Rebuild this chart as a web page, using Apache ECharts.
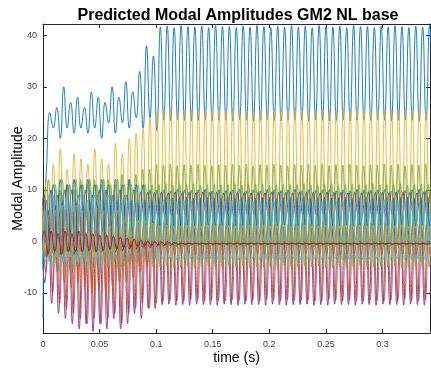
<!DOCTYPE html>
<html><head><meta charset="utf-8">
<script src="https://cdn.jsdelivr.net/npm/echarts@6/dist/echarts.min.js"></script>
<style>html,body{margin:0;padding:0;background:#fff}#c{width:431px;height:369px}</style>
</head><body><div id="c"></div>
<script>
// ---- data ----
// time between successive extremes (half of the oscillation period), s
const HALF_PERIOD = 0.00305;
const xTickValues = [0, 0.05, 0.1, 0.15, 0.2, 0.25, 0.3];
const yTickValues = [-10, 0, 10, 20, 30, 40];
const seriesNames = ['Mode 1','Mode 2','Mode 3','Mode 4','Mode 5','Mode 6','Mode 7','Mode 8','Mode 9','Mode 10','Mode 11','Mode 12','Mode 13','Mode 14'];
// phase offset of each series, in half periods
const phaseShift = [0, 0.2, 0, 0.5, 0.1, 0.3, 0, 0, 0.8, 0.25, 0.7, 0.4, 0.15, 0.6];

// successive extremes (peak / trough values) of each modal amplitude
const mode1 = [1,14,25,22,26,20,30,22,27,21,28,22,26,21,29,22,28,20,27,23,30,21,28,23,31,22,29,24,33,22,38,24,36,21.5,
 41.6,23.5,41.8,23.4,41.5,23.6,41.9,23.5,41.7,23.4,41.6,23.5,41.8,23.6,41.5,23.4,41.9,23.5,41.7,23.5,
 41.7,23.4,41.5,23.6,41.8,23.5,41.6,23.4,41.9,23.5,41.7,23.6,41.5,23.5,41.8,23.4,41.6,23.5,41.9,23.6,
 41.6,23.5,41.8,23.4,41.5,23.6,41.9,23.5,41.7,23.4,41.6,23.5,41.8,23.6,41.5,23.4,41.9,23.5,41.7,23.5,
 41.7,23.4,41.5,23.6,41.8,23.5,41.6,23.4,41.9,23.5,41.7,23.6,41.5,23.5,41.8,23.4,41.6,23.5,41.9,23.6];
const mode2 = [4,-6,5,-10,4,-12,5,-13,4,-14,5,-15,4,-16,3,-15,4,-16,3,-15,4,-14,3,-16,4,-14,3,-13,4,-12,3,-13,4,-12,
 3,-11.5,3.2,-11.4,2.9,-11.6,3.1,-11.5,3,-11.3,3.2,-11.5,2.9,-11.6,3.1,-11.4,3,-11.5,3.2,-11.6,
 2.9,-11.4,3.1,-11.5,3,-11.6,3.2,-11.4,2.9,-11.5,3.1,-11.3,3,-11.5,3.2,-11.6,2.9,-11.4,3.1,-11.5,
 3,-11.5,3.2,-11.4,2.9,-11.6,3.1,-11.5,3,-11.3,3.2,-11.5,2.9,-11.6,3.1,-11.4,3,-11.5,3.2,-11.6,
 2.9,-11.4,3.1,-11.5,3,-11.6,3.2,-11.4,2.9,-11.5,3.1,-11.3,3,-11.5,3.2,-11.6,2.9,-11.4,3.1,-11.5];
const mode3 = [2,12,-2,15,-1,18,0,14,-2,17,0,16,-1,15,1,18,-1,16,0,15,1,19,0,17,1,20,0,21,1,22,0,24,1,25,
 1,25.5,0.8,25.6,1.2,25.4,1,25.5,0.9,25.6,1.1,25.5,1,25.4,0.8,25.6,1.2,25.5,1,25.5,0.9,25.6,
 1.1,25.4,1,25.5,0.8,25.6,1.2,25.5,1,25.4,0.9,25.6,1.1,25.5,1,25.5,0.8,25.4,1.2,25.6,1,25.5,
 1,25.5,0.8,25.6,1.2,25.4,1,25.5,0.9,25.6,1.1,25.5,1,25.4,0.8,25.6,1.2,25.5,1,25.5,0.9,25.6,
 1.1,25.4,1,25.5,0.8,25.6,1.2,25.5,1,25.4,0.9,25.6,1.1,25.5,1,25.5,0.8,25.4,1.2,25.6,1,25.5];
const mode4 = [0,-8,6,-12,7,-14,8,-15,6,-16,8,-17,7,-16,8,-17.5,7,-16,8,-17,7,-15,8,-17,7,-16,8,-14,7,-15,8,-13,8,-13,
 8.5,-12.3,8.6,-12.2,8.4,-12.4,8.5,-12.3,8.6,-12.4,8.4,-12.2,8.5,-12.3,8.6,-12.3,8.4,-12.4,8.5,-12.2,
 8.6,-12.3,8.4,-12.4,8.5,-12.2,8.6,-12.3,8.4,-12.3,8.5,-12.4,8.6,-12.2,8.4,-12.3,8.5,-12.4,8.6,-12.3,
 8.5,-12.3,8.6,-12.2,8.4,-12.4,8.5,-12.3,8.6,-12.4,8.4,-12.2,8.5,-12.3,8.6,-12.3,8.4,-12.4,8.5,-12.2,
 8.6,-12.3,8.4,-12.4,8.5,-12.2,8.6,-12.3,8.4,-12.3,8.5,-12.4,8.6,-12.2,8.4,-12.3,8.5,-12.4,8.6,-12.3];
const mode5 = [-3,6,-4,9,-5,10,-4,11,-6,10,-5,12,-4,11,-6,12,-5,11,-4,12,-5,11,-6,13,-5,12,-4,13,-5,14,-4,14,-5,15,
 -5,14.8,-4.8,15,-5.1,14.7,-5,14.9,-4.9,14.8,-5.1,15,-5,14.8,-4.8,14.7,-5,14.9,-5.1,14.8,-4.9,15,
 -5,14.8,-4.8,15,-5.1,14.7,-5,14.9,-4.9,14.8,-5.1,15,-5,14.8,-4.8,14.7,-5,14.9,-5.1,14.8,-4.9,15,
 -5,14.8,-4.8,15,-5.1,14.7,-5,14.9,-4.9,14.8,-5.1,15,-5,14.8,-4.8,14.7,-5,14.9,-5.1,14.8,-4.9,15,
 -5,14.8,-4.8,15,-5.1,14.7,-5,14.9,-4.9,14.8,-5.1,15,-5,14.8,-4.8,14.7,-5,14.9,-5.1,14.8,-4.9,15];
const mode6 = [5,-4,9,-5,10,-6,9,-5,11,-6,10,-5,9,-6,10,-5,9,-6,10,-5,9,-4,8,-5,9,-4,8,-4,7,-3,7,-4,6,-3.5,
 6,-3.5,6.2,-3.4,5.9,-3.6,6.1,-3.5,6,-3.4,6.2,-3.6,5.9,-3.5,6.1,-3.4,6,-3.6,6.2,-3.5,5.9,-3.4,6.1,-3.6,
 6,-3.5,6.2,-3.4,5.9,-3.6,6.1,-3.5,6,-3.4,6.2,-3.6,5.9,-3.5,6.1,-3.4,6,-3.6,6.2,-3.5,5.9,-3.4,6.1,-3.6,
 6,-3.5,6.2,-3.4,5.9,-3.6,6.1,-3.5,6,-3.4,6.2,-3.6,5.9,-3.5,6.1,-3.4,6,-3.6,6.2,-3.5,5.9,-3.4,6.1,-3.6,
 6,-3.5,6.2,-3.4,5.9,-3.6,6.1,-3.5,6,-3.4,6.2,-3.6,5.9,-3.5,6.1,-3.4,6,-3.6,6.2,-3.5,5.9,-3.4,6.1,-3.6];
const mode7 = [3,-3,2.5,-2.5,2,-2.5,2.5,-2,2,-2.5,2,-2,2.5,-2,2,-2,1.5,-2,1.8,-1.8,1.5,-2,1.5,-1.8,1.2,-1.5,1,-1.5,0.8,-1.2,0.5,-1.2,0.3,-1,
 0.1,-0.9,0,-0.8,-0.2,-0.7,-0.3,-0.65,-0.35,-0.6,-0.4,-0.55,-0.4,-0.55,-0.4,-0.55,-0.4,-0.55,-0.4,-0.55,
 -0.4,-0.55,-0.4,-0.55,-0.4,-0.55,-0.4,-0.55,-0.4,-0.55,-0.4,-0.55,-0.4,-0.55,-0.4,-0.55,-0.4,-0.55,-0.4,-0.55,
 -0.4,-0.55,-0.4,-0.55,-0.4,-0.55,-0.4,-0.55,-0.4,-0.55,-0.4,-0.55,-0.4,-0.55,-0.4,-0.55,-0.4,-0.55,-0.4,-0.55,
 -0.4,-0.55,-0.4,-0.55,-0.4,-0.55,-0.4,-0.55,-0.4,-0.55,-0.4,-0.55,-0.4,-0.55,-0.4,-0.55,-0.4,-0.55,-0.4,-0.55];
const mode8 = [-15,8,2,11,1,12,3,11,2,12,1,11,3,12,2,11,3,12,2,11,3,12,2,11,3,12,2,11,3,11,3,10,3,10,
 3,10,3.2,9.8,2.9,10.1,3,10,3.1,9.9,3.2,10,2.9,10.1,3,9.8,3.1,10,3.2,9.9,2.9,10,3,10.1,3.1,9.8,
 3,10,3.2,9.8,2.9,10.1,3,10,3.1,9.9,3.2,10,2.9,10.1,3,9.8,3.1,10,3.2,9.9,2.9,10,3,10.1,3.1,9.8,
 3,10,3.2,9.8,2.9,10.1,3,10,3.1,9.9,3.2,10,2.9,10.1,3,9.8,3.1,10,3.2,9.9,2.9,10,3,10.1,3.1,9.8,
 3,10,3.2,9.8,2.9,10.1,3,10,3.1,9.9,3.2,10,2.9,10.1,3,9.8,3.1,10,3.2,9.9,2.9,10,3,10.1,3.1,9.8];
const mode9 = [8,-2,6,-4,5,-6,6,-8,5,-9,6,-8,5,-9,4,-10,5,-9,4,-10,5,-9,4,-8,4,-8,3,-7,3,-6,3,-5,3,-4,
 3.5,-2.5,3.6,-2.4,3.4,-2.6,3.5,-2.5,3.6,-2.4,3.4,-2.5,3.5,-2.6,3.6,-2.5,3.4,-2.4,3.5,-2.5,
 3.5,-2.5,3.6,-2.4,3.4,-2.6,3.5,-2.5,3.6,-2.4,3.4,-2.5,3.5,-2.6,3.6,-2.5,3.4,-2.4,3.5,-2.5,
 3.5,-2.5,3.6,-2.4,3.4,-2.6,3.5,-2.5,3.6,-2.4,3.4,-2.5,3.5,-2.6,3.6,-2.5,3.4,-2.4,3.5,-2.5,
 3.5,-2.5,3.6,-2.4,3.4,-2.6,3.5,-2.5,3.6,-2.4,3.4,-2.5,3.5,-2.6,3.6,-2.5,3.4,-2.4,3.5,-2.5,
 3.5,-2.5,3.6,-2.4,3.4,-2.6,3.5,-2.5,3.6,-2.4,3.4,-2.5,3.5,-2.6,3.6,-2.5,3.4,-2.4,3.5,-2.5];
const mode10 = [6,-2,5,-3,6,-2,7,-3,6,-2,7,-3,6,-2,6,-3,7,-2,6,-2,5,-2,6,-1,5,-1,5,-1,4,0,4,0,3.5,0,
 3,0,3.1,0.1,2.9,0,3,-0.1,3.1,0,2.9,0.1,3,0,3.1,-0.1,2.9,0,3,0.1,3.1,0,2.9,-0.1,3,0,3.1,0.1,
 3,0,3.1,0.1,2.9,0,3,-0.1,3.1,0,2.9,0.1,3,0,3.1,-0.1,2.9,0,3,0.1,3.1,0,2.9,-0.1,3,0,3.1,0.1,
 3,0,3.1,0.1,2.9,0,3,-0.1,3.1,0,2.9,0.1,3,0,3.1,-0.1,2.9,0,3,0.1,3.1,0,2.9,-0.1,3,0,3.1,0.1,
 3,0,3.1,0.1,2.9,0,3,-0.1,3.1,0,2.9,0.1,3,0,3.1,-0.1,2.9,0,3,0.1,3.1,0,2.9,-0.1,3,0,3.1,0.1];
const mode11 = [2,9,0,10,1,9,0,10,1,10,0,9,1,10,2,9,1,10,2,10,3,9,3,10,4,9,4,10,4,9.5,5,9.5,5,9.5,
 5,9.5,5.1,9.4,4.9,9.6,5,9.5,5.1,9.5,4.9,9.4,5,9.6,5.1,9.5,4.9,9.5,5,9.4,5.1,9.6,4.9,9.5,5,9.5,5.1,9.4,
 5,9.5,5.1,9.4,4.9,9.6,5,9.5,5.1,9.5,4.9,9.4,5,9.6,5.1,9.5,4.9,9.5,5,9.4,5.1,9.6,4.9,9.5,5,9.5,5.1,9.4,
 5,9.5,5.1,9.4,4.9,9.6,5,9.5,5.1,9.5,4.9,9.4,5,9.6,5.1,9.5,4.9,9.5,5,9.4,5.1,9.6,4.9,9.5,5,9.5,5.1,9.4,
 5,9.5,5.1,9.4,4.9,9.6,5,9.5,5.1,9.5,4.9,9.4,5,9.6,5.1,9.5,4.9,9.5,5,9.4,5.1,9.6,4.9,9.5,5,9.5,5.1,9.4];
const mode12 = [10,-3,12,-2,11,-3,12,-2,11,-3,12,-2,11,-3,12,-2,11,-2,12,-3,11,-2,12,-2,11,-1,11,-2,11,-1,11,-1,11,-1,
 11,-1,11.2,-0.9,10.9,-1.1,11,-1,11.1,-0.9,11.2,-1,10.9,-1.1,11,-1,11.1,-0.9,11,-1,
 11,-1,11.2,-0.9,10.9,-1.1,11,-1,11.1,-0.9,11.2,-1,10.9,-1.1,11,-1,11.1,-0.9,11,-1,
 11,-1,11.2,-0.9,10.9,-1.1,11,-1,11.1,-0.9,11.2,-1,10.9,-1.1,11,-1,11.1,-0.9,11,-1,
 11,-1,11.2,-0.9,10.9,-1.1,11,-1,11.1,-0.9,11.2,-1,10.9,-1.1,11,-1,11.1,-0.9,11,-1];
const mode13 = [-5,6,-4,9,-3,8,-4,9,-3,8,-4,9,-3,8,-2,9,-3,8,-2,9,-2,8,-1,8,-1,8,0,8,0,8,0,8,0,8,
 0,8,0.1,8.1,-0.1,7.9,0,8,0.1,8.1,0,7.9,-0.1,8,0,8.1,0.1,8,0,7.9,-0.1,8,0.1,8.1,0,8,0,7.9,
 0,8,0.1,8.1,-0.1,7.9,0,8,0.1,8.1,0,7.9,-0.1,8,0,8.1,0.1,8,0,7.9,-0.1,8,0.1,8.1,0,8,0,7.9,
 0,8,0.1,8.1,-0.1,7.9,0,8,0.1,8.1,0,7.9,-0.1,8,0,8.1,0.1,8,0,7.9,-0.1,8,0.1,8.1,0,8,0,7.9,
 0,8,0.1,8.1,-0.1,7.9,0,8,0.1,8.1,0,7.9,-0.1,8,0,8.1,0.1,8,0,7.9,-0.1,8,0.1,8.1,0,8,0,7.9];
const mode14 = [-2,2,-2.5,2,-2,1.5,-2.5,2,-2,1.5,-2,2,-2,1.5,-1.8,1.5,-2,1.2,-1.8,1.2,-1.5,1,-1.5,0.8,-1.2,0.6,-1.2,0.4,-1,0.2,-0.9,0,-0.8,-0.1,
 -0.7,-0.2,-0.65,-0.3,-0.6,-0.35,-0.55,-0.4,-0.5,-0.4,-0.5,-0.4,-0.5,-0.4,-0.5,-0.4,-0.5,-0.4,-0.5,-0.4,
 -0.5,-0.4,-0.5,-0.4,-0.5,-0.4,-0.5,-0.4,-0.5,-0.4,-0.5,-0.4,-0.5,-0.4,-0.5,-0.4,-0.5,-0.4,-0.5,-0.4,
 -0.5,-0.4,-0.5,-0.4,-0.5,-0.4,-0.5,-0.4,-0.5,-0.4,-0.5,-0.4,-0.5,-0.4,-0.5,-0.4,-0.5,-0.4,-0.5,-0.4,
 -0.5,-0.4,-0.5,-0.4,-0.5,-0.4,-0.5,-0.4,-0.5,-0.4,-0.5,-0.4,-0.5,-0.4,-0.5,-0.4,-0.5,-0.4,-0.5,-0.4];

const modeValues = [mode1,mode2,mode3,mode4,mode5,mode6,mode7,mode8,mode9,mode10,mode11,mode12,mode13,mode14];

// ---- style ----
const palette = ['#0072BD','#D95319','#EDB120','#7E2F8E','#77AC30','#4DBEEE','#A2142F'];
const axisColor = '#262626';
const font = '"Liberation Sans", Arial, Helvetica, sans-serif';

const chart = echarts.init(document.getElementById('c'), null, {renderer: 'canvas'});

const series = modeValues.map((vals, i) => ({
  type: 'line',
  name: seriesNames[i],
  data: vals.map((v, k) => [(k - phaseShift[i]) * HALF_PERIOD, v]),
  smooth: 0.5,
  showSymbol: false,
  symbol: 'none',
  clip: true,
  silent: true,
  lineStyle: {width: 0.9, color: palette[i % palette.length]},
  itemStyle: {color: palette[i % palette.length]}
}));

const xMin = 0, xMax = 0.342, yMin = -17.8, yMax = 42.2;

const baseX = {
  type: 'value', min: xMin, max: xMax, interval: 0.05,
  axisLine: {show: true, onZero: false, lineStyle: {color: axisColor, width: 1}},
  splitLine: {show: false}
};
const baseY = {
  type: 'value', min: yMin, max: yMax,
  axisLine: {show: true, onZero: false, lineStyle: {color: axisColor, width: 1}},
  axisTick: {show: true, inside: true, length: 4, customValues: yTickValues, lineStyle: {color: axisColor}},
  splitLine: {show: false}
};

chart.setOption({
  animation: false,
  backgroundColor: '#fff',
  title: {
    text: 'Predicted Modal Amplitudes GM2 NL base',
    left: 233, top: 3, textAlign: 'center',
    textStyle: {fontFamily: font, fontWeight: 'bold', fontSize: 16, color: '#000'}
  },
  grid: {left: 43, right: 1, top: 24, bottom: 36, containLabel: false, outerBoundsMode: 'none'},
  xAxis: [
    Object.assign({}, baseX, {
      position: 'bottom',
      axisLabel: {show: true, color: '#404040', fontSize: 9, fontFamily: font, margin: 7,
        customValues: xTickValues},
      axisTick: {show: true, inside: true, length: 4, customValues: xTickValues, lineStyle: {color: axisColor}},
      name: 'time (s)', nameLocation: 'middle', nameGap: 18, nameMoveOverlap: false,
      nameTextStyle: {fontFamily: font, fontSize: 14, color: '#000'}
    }),
    Object.assign({}, baseX, {
      position: 'top',
      axisLabel: {show: false},
      axisTick: {show: true, inside: true, length: 4, customValues: xTickValues, lineStyle: {color: axisColor}}
    })
  ],
  yAxis: [
    Object.assign({}, baseY, {
      position: 'left',
      axisLabel: {show: true, color: '#404040', fontSize: 9, fontFamily: font, margin: 6, customValues: yTickValues},
      name: 'Modal Amplitude', nameLocation: 'middle', nameGap: 18, nameMoveOverlap: false,
      nameTextStyle: {fontFamily: font, fontSize: 14, color: '#000'}
    }),
    Object.assign({}, baseY, {
      position: 'right',
      axisLabel: {show: false}
    })
  ],
  series: series
});
</script>
</body></html>
